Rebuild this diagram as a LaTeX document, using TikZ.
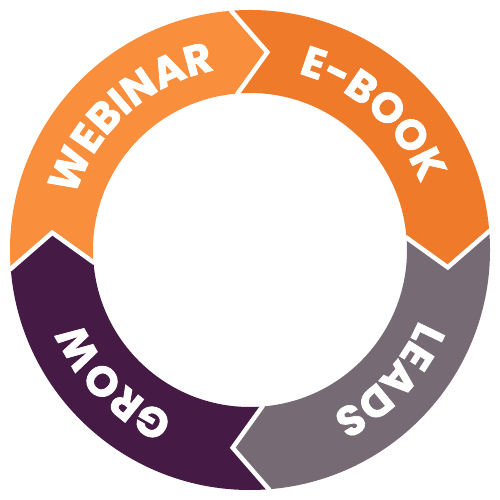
\documentclass[tikz,border=0pt]{standalone}
\usepackage{fontspec}
\setmainfont{Poppins}[BoldFeatures = {FakeBold = 1.6}]
\usetikzlibrary{decorations.text}
\definecolor{webinarorange}{HTML}{F98E3D}
\definecolor{ebookorange}{HTML}{EE7A2A}
\definecolor{leadsgray}{HTML}{766B75}
\definecolor{growpurple}{HTML}{451A44}

\begin{document}
\begin{tikzpicture}[line join = miter, gap/.style = {draw = white, line width = 0.09cm}, ringtext/.style = {decorate, decoration = {text along path, text align = center}}]
	\useasboundingbox (-5,-5) rectangle (5,5);
	\fill[webinarorange] (184.5:4.8) arc[start angle = 184.5, end angle = 94.5, radius = 4.8] -- (85:3.97) -- (94.5:3.14) arc[start angle = 94.5, end angle = 184.5, radius = 3.14] -- (175:3.97) -- cycle;
	\fill[ebookorange] (94.5:4.8) arc[start angle = 94.5, end angle = 4.5, radius = 4.8] -- (-5:3.97) -- (4.5:3.14) arc[start angle = 4.5, end angle = 94.5, radius = 3.14] -- (85:3.97) -- cycle;
	\fill[leadsgray] (4.5:4.8) arc[start angle = 4.5, end angle = -85.5, radius = 4.8] -- (-95:3.97) -- (-85.5:3.14) arc[start angle = -85.5, end angle = 4.5, radius = 3.14] -- (-5:3.97) -- cycle;
	\fill[growpurple] (-85.5:4.8) arc[start angle = -85.5, end angle = -175.5, radius = 4.8] -- (-185:3.97) -- (-175.5:3.14) arc[start angle = -175.5, end angle = -85.5, radius = 3.14] -- (-95:3.97) -- cycle;
	\draw[gap] (94.5:4.9) -- (94.5:4.8) -- (85:3.97) -- (94.5:3.14) -- (94.5:3.04);
	\draw[gap] (4.5:4.9) -- (4.5:4.8) -- (-5:3.97) -- (4.5:3.14) -- (4.5:3.04);
	\draw[gap] (-85.5:4.9) -- (-85.5:4.8) -- (-95:3.97) -- (-85.5:3.14) -- (-85.5:3.04);
	\draw[gap] (-175.5:4.9) -- (-175.5:4.8) -- (-185:3.97) -- (-175.5:3.14) -- (-175.5:3.04);
	\path[ringtext, decoration = {text = {|\fontsize{24}{24}\selectfont\bfseries\color{white}|WEBINAR}}] (172:3.66) arc[start angle = 172, end angle = 92, radius = 3.66];
	\path[ringtext, decoration = {text = {|\fontsize{24}{24}\selectfont\bfseries\color{white}|E-BOOK}}] (88:3.66) arc[start angle = 88, end angle = 8, radius = 3.66];
	\path[ringtext, decoration = {text = {|\fontsize{24}{24}\selectfont\bfseries\color{white}|LEADS}}] (-3:3.66) arc[start angle = -3, end angle = -83, radius = 3.66];
	\path[ringtext, decoration = {text = {|\fontsize{24}{24}\selectfont\bfseries\color{white}|GROW}}] (264:3.66) arc[start angle = 264, end angle = 184, radius = 3.66];
\end{tikzpicture}
\end{document}
